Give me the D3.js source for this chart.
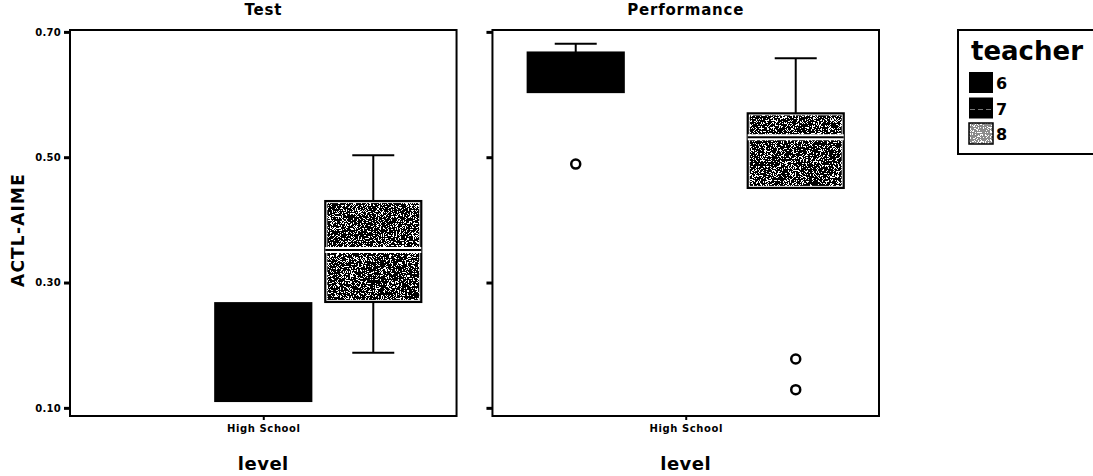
<!DOCTYPE html>
<html>
<head>
<meta charset="utf-8">
<script src="https://cdn.jsdelivr.net/npm/d3@7"></script>
<style>
  body { margin: 0; background: #fff; }
  text { font-family: "DejaVu Sans", sans-serif; font-weight: bold; fill: #000; }
</style>
</head>
<body>
<script>
    const chart_width = 1093;
    const chart_height = 476;

    // data
    const panels = ["Test", "Performance"];
    const teachers = ["6", "7", "8"];
    const yTicks = [0.10, 0.30, 0.50, 0.70];
    const xCategory = "High School";
    // one row per box: panel, teacher, low whisker, q1, median, q3, high whisker
    const boxPanel   = ["Test", "Test", "Performance", "Performance"];
    const boxTeacher = ["7", "8", "6", "8"];
    const boxLow     = [0.111, 0.188, 0.604, 0.451];
    const boxQ1      = [0.111, 0.269, 0.604, 0.451];
    const boxMedian  = [0.111, 0.352, 0.667, 0.532];
    const boxQ3      = [0.267, 0.430, 0.667, 0.570];
    const boxHigh    = [0.267, 0.503, 0.681, 0.658];
    const outlierPanel   = ["Performance", "Performance", "Performance"];
    const outlierTeacher = ["6", "8", "8"];
    const outlierValue   = [0.489, 0.178, 0.129];

    const svg = d3.select('body').append('svg').attr('width', chart_width).attr('height', chart_height);

    const defs = svg.append('defs');
    const f = defs.append('filter').attr('id', 'speckle')
        .attr('x', 0).attr('y', 0).attr('width', 1).attr('height', 1);
    f.append('feTurbulence').attr('type', 'fractalNoise').attr('baseFrequency', 1.4)
        .attr('numOctaves', 2).attr('seed', 4);
    f.append('feColorMatrix').attr('type', 'matrix')
        .attr('values', '1 0 0 0 0  1 0 0 0 0  1 0 0 0 0  0 0 0 0 1');
    const ct = f.append('feComponentTransfer');
    ['R', 'G', 'B'].forEach(c => ct.append('feFunc' + c).attr('type', 'discrete').attr('tableValues', '0 0 0 0 1 1 1'));
    f.append('feComposite').attr('in2', 'SourceGraphic').attr('operator', 'in');

    const y = d3.scaleLinear().domain([0.087, 0.703]).range([416, 30]);
    const panelX = d3.scaleBand().domain(panels).range([70, 879]).paddingInner(0.085);
    const bw = panelX.bandwidth();
    const boxWidth = 96, capWidth = 42;

    const fills = { "6": "#000", "7": "#000", "8": "speckle" };

    panels.forEach((p, pi) => {
      const x0 = panelX(p);
      const g = svg.append('g');
      const tx = d3.scalePoint().domain(teachers).range([x0 + bw / 2 - 110, x0 + bw / 2 + 110]);

      // title
      g.append('text').attr('x', x0 + bw / 2).attr('y', 15)
        .attr('text-anchor', 'middle').attr('font-size', 15).attr('letter-spacing', 0.8).text(p);

      // y axis ticks
      const yAxis = d3.axisLeft(y).tickValues(yTicks).tickSize(6).tickPadding(3)
        .tickFormat(pi === 0 ? d3.format('.2f') : '');
      const ya = g.append('g').attr('transform', `translate(${x0},0)`).call(yAxis);
      ya.select('.domain').remove();
      ya.selectAll('line').attr('stroke', '#000').attr('stroke-width', 3);
      ya.selectAll('text').attr('font-size', 10).attr('letter-spacing', 0.3);

      // x axis
      const xs = d3.scalePoint().domain([xCategory]).range([x0 + bw / 2, x0 + bw / 2]);
      const xa = g.append('g').attr('transform', `translate(0,416)`)
        .call(d3.axisBottom(xs).tickSize(4).tickPadding(5));
      xa.select('.domain').remove();
      xa.selectAll('line').attr('stroke', '#000').attr('stroke-width', 2);
      xa.selectAll('text').attr('font-size', 10).attr('letter-spacing', 0.6);

      g.append('text').attr('x', x0 + bw / 2).attr('y', 470)
        .attr('text-anchor', 'middle').attr('font-size', 18).attr('letter-spacing', 0.5).text('level');

      // boxes
      boxPanel.forEach((bp, i) => {
        if (bp !== p) return;
        const cx = tx(boxTeacher[i]);
        const bx = cx - boxWidth / 2;
        const ws = g.append('g').attr('stroke', '#000').attr('stroke-width', 2);
        if (boxHigh[i] > boxQ3[i]) {
          ws.append('line').attr('x1', cx).attr('x2', cx).attr('y1', y(boxQ3[i])).attr('y2', y(boxHigh[i]));
          ws.append('line').attr('x1', cx - capWidth / 2).attr('x2', cx + capWidth / 2)
            .attr('y1', y(boxHigh[i])).attr('y2', y(boxHigh[i]));
        }
        if (boxLow[i] < boxQ1[i]) {
          ws.append('line').attr('x1', cx).attr('x2', cx).attr('y1', y(boxQ1[i])).attr('y2', y(boxLow[i]));
          ws.append('line').attr('x1', cx - capWidth / 2).attr('x2', cx + capWidth / 2)
            .attr('y1', y(boxLow[i])).attr('y2', y(boxLow[i]));
        }
        const fill = fills[boxTeacher[i]];
        if (fill === 'speckle') {
          g.append('rect').attr('x', bx + 2).attr('y', y(boxQ3[i]) + 2)
            .attr('width', boxWidth - 4).attr('height', y(boxQ1[i]) - y(boxQ3[i]) - 4)
            .attr('fill', '#fff').attr('filter', 'url(#speckle)');
        }
        g.append('rect').attr('x', bx).attr('y', y(boxQ3[i]))
          .attr('width', boxWidth).attr('height', y(boxQ1[i]) - y(boxQ3[i]))
          .attr('fill', fill === 'speckle' ? 'none' : fill)
          .attr('stroke', '#000').attr('stroke-width', 2.2);
        if (fill === 'speckle') {
          g.append('line').attr('x1', bx).attr('x2', bx + boxWidth)
            .attr('y1', y(boxMedian[i])).attr('y2', y(boxMedian[i]))
            .attr('stroke', '#fff').attr('stroke-width', 6);
          g.append('line').attr('x1', bx).attr('x2', bx + boxWidth)
            .attr('y1', y(boxMedian[i])).attr('y2', y(boxMedian[i]))
            .attr('stroke', '#000').attr('stroke-width', 2);
        }
      });

      // outliers
      outlierPanel.forEach((op, i) => {
        if (op !== p) return;
        g.append('circle').attr('cx', tx(outlierTeacher[i])).attr('cy', y(outlierValue[i]))
          .attr('r', 4.5).attr('fill', '#fff').attr('stroke', '#000').attr('stroke-width', 2.5);
      });

      // frame
      g.append('rect').attr('x', x0).attr('y', 30).attr('width', bw).attr('height', 386)
        .attr('fill', 'none').attr('stroke', '#000').attr('stroke-width', 2);
    });

    // y title
    svg.append('text').attr('transform', 'translate(24,230) rotate(-90)')
      .attr('text-anchor', 'middle').attr('font-size', 17).attr('letter-spacing', 1.2).text('ACTL-AIME');

    // legend
    const lg = svg.append('g');
    lg.append('rect').attr('x', 958).attr('y', 30).attr('width', 150).attr('height', 124)
      .attr('fill', '#fff').attr('stroke', '#000').attr('stroke-width', 2);
    lg.append('text').attr('x', 971).attr('y', 60).attr('font-size', 26).text('teacher');
    teachers.forEach((t, i) => {
      const yy = 72 + i * 25.5;
      if (fills[t] === 'speckle') {
        lg.append('rect').attr('x', 969).attr('y', yy).attr('width', 24).attr('height', 21)
          .attr('fill', '#fff').attr('filter', 'url(#speckle)').attr('opacity', 0.45);
        lg.append('rect').attr('x', 969).attr('y', yy).attr('width', 24).attr('height', 21)
          .attr('fill', 'none').attr('stroke', '#000').attr('stroke-width', 1.5);
      } else {
        lg.append('rect').attr('x', 969).attr('y', yy).attr('width', 24).attr('height', 21).attr('fill', fills[t]);
        if (t === '7') {
          lg.append('line').attr('x1', 970).attr('x2', 992).attr('y1', yy + 12).attr('y2', yy + 12)
            .attr('stroke', '#777').attr('stroke-width', 1).attr('stroke-dasharray', '5,3');
        }
      }
      lg.append('text').attr('x', 996).attr('y', yy + 17).attr('font-size', 16).text(t);
    });
</script>
</body>
</html>
